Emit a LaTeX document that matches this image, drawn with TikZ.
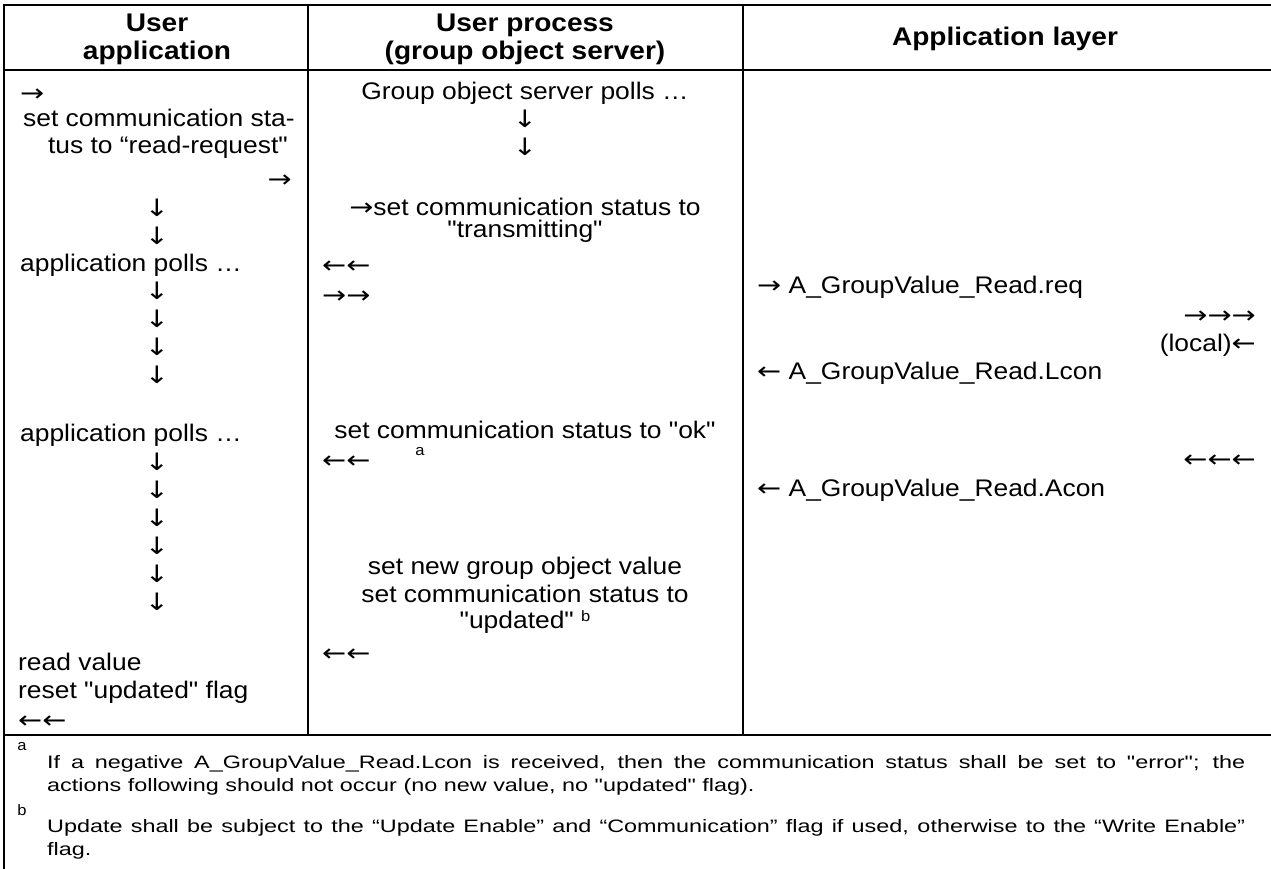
\documentclass[tikz,border=0pt]{standalone}
\usepackage{fontspec}
\setmainfont{Liberation Sans}[FakeStretch=1.1, Ligatures=TeXOff]
\newfontfamily\notefont{Liberation Sans}[FakeStretch=1.3, Ligatures=TeXOff]
\newfontfamily\arrowfont{DejaVu Sans}[FakeStretch=1.2]
\newcommand{\rarr}{{\arrowfont →}}
\newcommand{\larr}{{\arrowfont ←}}
\newcommand{\darr}{{\arrowfont ↓}}

\begin{document}
\begin{tikzpicture}[%
  x=1pt, y=-1pt,
  node distance=28pt,
  txt/.style={inner sep=0pt, text height=17pt, text depth=5pt, font=\fontsize{24}{27.5}\selectfont},
  para/.style={inner sep=0pt, align=center, font=\fontsize{24}{22}\selectfont},
  head/.style={inner sep=0pt, align=center, font=\fontsize{25.5}{28}\selectfont\bfseries},
  supmark/.style={inner sep=0pt, font=\fontsize{15}{16}\selectfont},
  note/.style={inner sep=0pt, anchor=north west, text width=1198pt, align=justify, font=\fontsize{18}{23.5}\notefont},
  rule/.style={line width=2.5pt},
  ]
  \useasboundingbox (0,0) rectangle (1271,869);
  \draw[rule] (4,5) -- (1271,5);
  \draw[rule] (4,70) -- (1271,70);
  \draw[rule] (4,735) -- (1271,735);
  \draw[rule] (4,4) -- (4,869);
  \draw[rule] (308,5) -- (308,735);
  \draw[rule] (743,5) -- (743,735);

  \node[head] (hua) at (157,39) {User\\application};
  \node[head] (hup) at (525,39) {User process\\(group object server)};
  \node[head] (hal) at (1005,39) {Application layer};

  {
    \node[txt, anchor=west] (ua1) at (20,96) {\rarr};
    \node[txt, anchor=west] (ua2) at (23,121) {set communication sta-};
    \node[txt, anchor=east] (ua3) at (288,148) {tus to “read-request"};
    \node[txt, anchor=east] (ua4) at (292,182) {\rarr};
    \node[txt] (ud1) at (157,210) {\darr};
    \node[txt, below of=ud1] (ud2) {\darr};
    \node[txt, anchor=west] (poll1) at (20,265) {application polls …};
    \node[txt] (ud3) at (157,293) {\darr};
    \node[txt, below of=ud3] (ud4) {\darr};
    \node[txt, below of=ud4] (ud5) {\darr};
    \node[txt, below of=ud5] (ud6) {\darr};
    \node[txt, anchor=west] (poll2) at (20,435) {application polls …};
    \node[txt] (ud7) at (157,464) {\darr};
    \node[txt, below of=ud7] (ud8) {\darr};
    \node[txt, below of=ud8] (ud9) {\darr};
    \node[txt, below of=ud9] (ud10) {\darr};
    \node[txt, below of=ud10] (ud11) {\darr};
    \node[txt, below of=ud11] (ud12) {\darr};
    \node[txt, anchor=west] (uread) at (18,664) {read value};
    \node[txt, anchor=west] (ureset) at (18,692) {reset "updated" flag};
    \node[txt, anchor=west] (uback) at (18,722) {\larr\larr};
  }

  {
    \node[txt] (gpoll) at (525,94) {Group object server polls …};
    \node[txt, below of=gpoll] (gd1) {\darr};
    \node[txt, below of=gd1] (gd2) {\darr};
    \node[para] (gtx) at (525,220) {\rarr set communication status to\\"transmitting"};
    \node[txt, anchor=west] (gl1) at (322,267) {\larr\larr};
    \node[txt, anchor=west] (gr1) at (322,297) {\rarr\rarr};
    \node[txt] (gok) at (525,432) {set communication status to "ok"};
    \node[supmark] (gsa) at (420,452) {a};
    \node[txt, anchor=west] (gl2) at (322,462) {\larr\larr};
    \node[txt] (gnew) at (525,568) {set new group object value};
    \node[txt] (gupd1) at (525,596) {set communication status to};
    \node[txt] (gupd2) at (525,622) {"updated" \raisebox{7pt}{\fontsize{15}{16}\selectfont b}};
    \node[txt, anchor=west] (gl3) at (322,655) {\larr\larr};
  }

  {
    \node[txt, anchor=west] (areq) at (757,287) {\rarr{} A\_GroupValue\_Read.req};
    \node[txt, anchor=east] (aout) at (1256,317) {\rarr\rarr\rarr};
    \node[txt, anchor=east] (aloc) at (1256,345) {(local)\larr};
    \node[txt, anchor=west] (alcon) at (757,373) {\larr{} A\_GroupValue\_Read.Lcon};
    \node[txt, anchor=east] (ain) at (1256,461) {\larr\larr\larr};
    \node[txt, anchor=west] (aacon) at (757,490) {\larr{} A\_GroupValue\_Read.Acon};
  }

  \node[supmark] (fna) at (22,747) {a};
  \node[note] (fta) at (47,755) {If a negative A\_GroupValue\_Read.Lcon is received, then the communication status shall be set to "error"; the\linebreak actions following should not occur (no new value, no "updated" flag).};
  \node[supmark] (fnb) at (22,810) {b};
  \node[note] (ftb) at (47,819) {Update shall be subject to the “Update Enable” and “Communication” flag if used, otherwise to the “Write Enable”\linebreak flag.};
\end{tikzpicture}
\end{document}
